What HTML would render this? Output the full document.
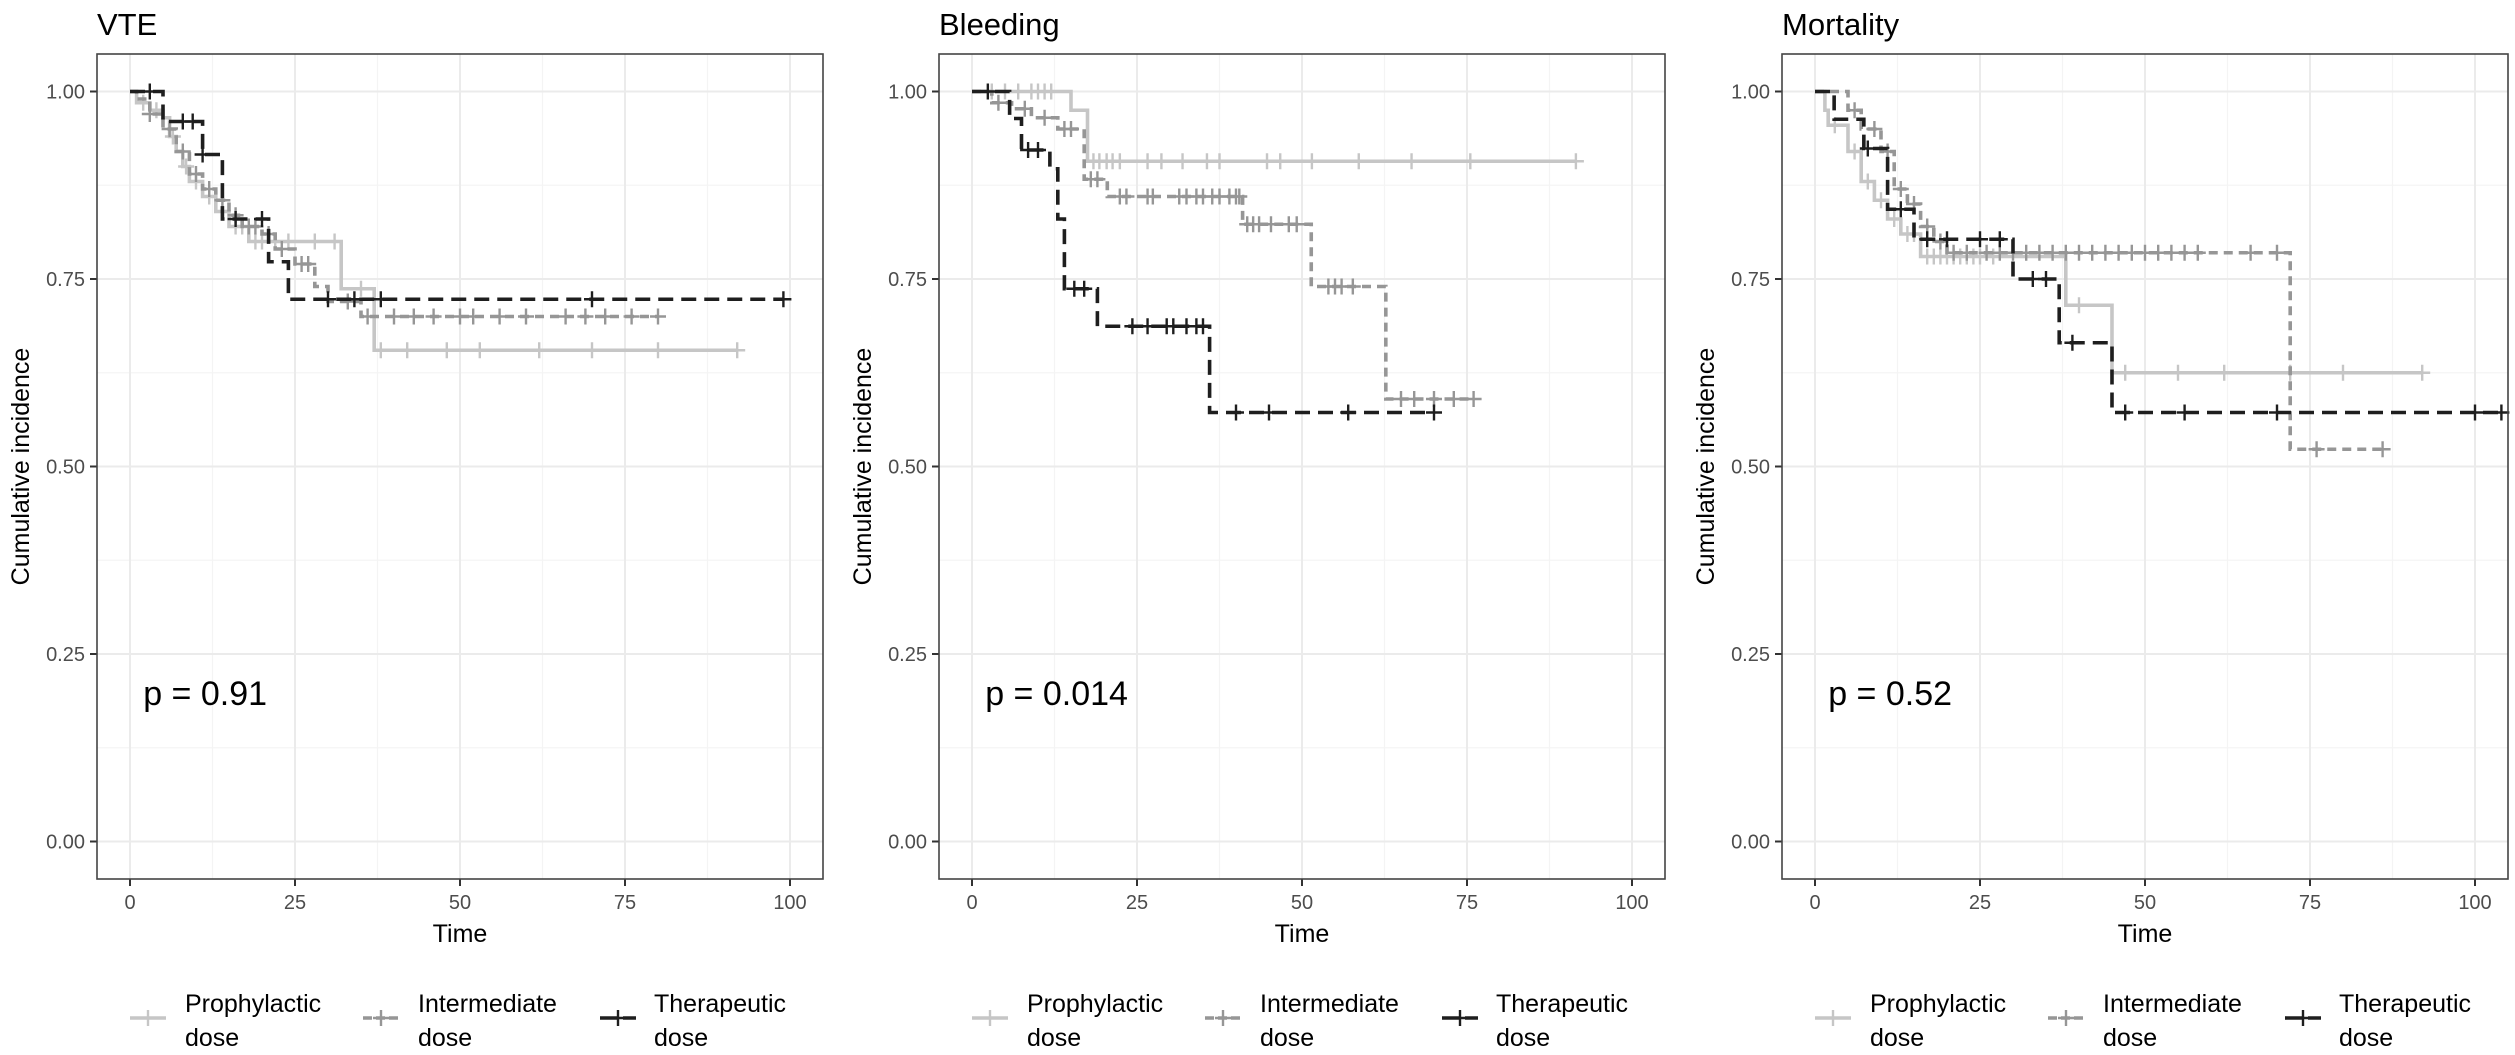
<!DOCTYPE html>
<html><head><meta charset="utf-8">
<style>
html,body{margin:0;padding:0;background:#fff;}
svg{display:block;font-family:"Liberation Sans",Arial,sans-serif;}
</style></head>
<body>
<svg id="chart" width="2515" height="1055" viewBox="0 0 2515 1055" xmlns="http://www.w3.org/2000/svg"></svg>
<script>
// ---- shared axis data ----
const xTicks = [0, 25, 50, 75, 100];
const yTicks = [0, 0.25, 0.5, 0.75, 1];
const yTickLabels = ["0.00", "0.25", "0.50", "0.75", "1.00"];
const panelTitles = ["VTE", "Bleeding", "Mortality"];
const pValues = ["p = 0.91", "p = 0.014", "p = 0.52"];
const groupNames = ["Prophylactic", "Intermediate", "Therapeutic"];

// ---- VTE ----
const vteProphT = [0,1,3,5,6,7,8,9,11,13,15,18,32,37];
const vteProphS = [1,0.985,0.975,0.965,0.94,0.92,0.9,0.88,0.86,0.84,0.82,0.80,0.737,0.655];
const vteProphEnd = 92;
const vteProphC = [2,4,6.5,8.5,10,12,14,16,17,19,20,22,24,28,31,35,38,42,48,53,62,70,80,92];
const vteInterT = [0,1,3,5,7,9,11,13,15,17,20,22,25,28,30,35];
const vteInterS = [1,0.99,0.97,0.95,0.92,0.89,0.87,0.855,0.835,0.82,0.81,0.79,0.77,0.74,0.72,0.70];
const vteInterEnd = 80;
const vteInterC = [3,6,8,10,12,14,16,18,19,21,23,26,27,33,36,40,43,46,50,52,56,60,66,69,72,76,80];
const vteTherT = [0,5,11,14,21,24];
const vteTherS = [1,0.96,0.916,0.83,0.773,0.723];
const vteTherEnd = 99;
const vteTherC = [3,8,9.5,11,16,20,30,34,38,70,99];

// ---- Bleeding ----
const blProphT = [0,15,17.5];
const blProphS = [1,0.975,0.907];
const blProphEnd = 91.5;
const blProphC = [3,5,7,9,10,11,12,18.4,19.3,20.4,21.3,22.4,26.6,28.7,31.9,35.6,37.5,44.7,46.7,51.5,58.6,66.6,75.5,91.5];
const blInterT = [0,3,6,9,13,17,20.5,41,51.4,62.7];
const blInterS = [1,0.985,0.977,0.965,0.95,0.883,0.86,0.823,0.74,0.59];
const blInterEnd = 76;
const blInterC = [4,8,11,14,15,18,19,22.4,23.4,26.6,27.4,31.4,32.5,34,35,36.4,37.5,39,40,40.5,41.7,42.6,43.5,45.3,48,49.2,54,55,56,57.7,65,67,70,73,76];
const blTherT = [0,5.7,7.5,11.8,13,14,19,36];
const blTherS = [1,0.964,0.922,0.897,0.83,0.737,0.687,0.572];
const blTherEnd = 70;
const blTherC = [2.4,8.5,10,15.5,17,24.3,26.6,29.5,30.5,32.5,34,35,40,45,57,70];

// ---- Mortality ----
const moProphT = [0,1.5,2,5,7,9,11,13,16,38,45];
const moProphS = [1,0.975,0.955,0.92,0.88,0.855,0.83,0.81,0.78,0.715,0.625];
const moProphEnd = 92;
const moProphC = [3,6,8,10,12,14,15,17,18,19,20,21,22,23,24,25,27,40,47,55,62,72,80,92];
const moInterT = [0,5,7,10,12,14,16,18,20,25,72];
const moInterS = [1,0.975,0.95,0.92,0.87,0.85,0.82,0.80,0.785,0.785,0.523];
const moInterEnd = 86;
const moInterC = [6,9,11,13,15,17,19,21,23,26,28,30,32,34,36,38,40,42,44,46,48,50,52,54,56,58,66,70,76,86];
const moTherT = [0,2.9,7.4,11,15,30,37,45];
const moTherS = [1,0.963,0.924,0.843,0.803,0.75,0.665,0.572];
const moTherEnd = 104;
const moTherC = [8,13,17,20,25,28,33,35,39,47,56,70,100,104];

const NS = "http://www.w3.org/2000/svg";
const svg = document.getElementById("chart");
function mk(tag, attrs, parent) {
  const e = document.createElementNS(NS, tag);
  for (const k in attrs) e.setAttribute(k, attrs[k]);
  (parent || svg).appendChild(e);
  return e;
}
const styles = [
  {color: "#c6c6c6", dash: "none"},
  {color: "#969696", dash: "9 6"},
  {color: "#1e1e1e", dash: "15 8"}
];
const panelLefts = [97, 939, 1782];
const PW = 726, PT = 54, PB = 879;
const panels = [
  [[vteProphT, vteProphS, vteProphEnd, vteProphC], [vteInterT, vteInterS, vteInterEnd, vteInterC], [vteTherT, vteTherS, vteTherEnd, vteTherC]],
  [[blProphT, blProphS, blProphEnd, blProphC], [blInterT, blInterS, blInterEnd, blInterC], [blTherT, blTherS, blTherEnd, blTherC]],
  [[moProphT, moProphS, moProphEnd, moProphC], [moInterT, moInterS, moInterEnd, moInterC], [moTherT, moTherS, moTherEnd, moTherC]]
];
const seriesNames = ["prophylactic", "intermediate", "therapeutic"];

panels.forEach((series, p) => {
  const L = panelLefts[p];
  const xS = t => L + (t + 5) / 110 * PW;
  const yS = v => PB - (v + 0.05) / 1.1 * (PB - PT);
  const g = mk("g", {});
  
  

  // title
  const title = mk("text", {x: L, y: 35, "font-size": 31, fill: "#000"}, g);
  title.textContent = panelTitles[p];
  
  

  // grid
  for (let i = 0; i < xTicks.length - 1; i++) {
    const m = mk("line", {x1: xS((xTicks[i] + xTicks[i+1]) / 2), x2: xS((xTicks[i] + xTicks[i+1]) / 2), y1: PT, y2: PB, stroke: "#f4f4f4", "stroke-width": 1.2}, g);
    
    
  }
  for (let i = 0; i < yTicks.length - 1; i++) {
    const m = mk("line", {x1: L, x2: L + PW, y1: yS((yTicks[i] + yTicks[i+1]) / 2), y2: yS((yTicks[i] + yTicks[i+1]) / 2), stroke: "#f4f4f4", "stroke-width": 1.2}, g);
    
    
  }
  xTicks.forEach(t => {
    const gl = mk("line", {x1: xS(t), x2: xS(t), y1: PT, y2: PB, stroke: "#ebebeb", "stroke-width": 2}, g);
    
    
    const tk = mk("line", {x1: xS(t), x2: xS(t), y1: PB, y2: PB + 7, stroke: "#333", "stroke-width": 2}, g);
    
    
    const tl = mk("text", {x: xS(t), y: PB + 30, "font-size": 20, fill: "#4d4d4d", "text-anchor": "middle"}, g);
    tl.textContent = String(t);
    
    
  });
  yTicks.forEach((v, i) => {
    const gl = mk("line", {x1: L, x2: L + PW, y1: yS(v), y2: yS(v), stroke: "#ebebeb", "stroke-width": 2}, g);
    
    
    const tk = mk("line", {x1: L - 7, x2: L, y1: yS(v), y2: yS(v), stroke: "#333", "stroke-width": 2}, g);
    
    
    const tl = mk("text", {x: L - 12, y: yS(v) + 7, "font-size": 20, fill: "#4d4d4d", "text-anchor": "end"}, g);
    tl.textContent = yTickLabels[i];
    
    
  });

  // series
  series.forEach((s, k) => {
    const [T, S, end, C] = s;
    let d = "M" + xS(T[0]) + "," + yS(S[0]);
    for (let i = 1; i < T.length; i++) {
      d += " H" + xS(T[i]) + " V" + yS(S[i]);
    }
    d += " H" + xS(end);
    const path = mk("path", {d: d, fill: "none", stroke: styles[k].color, "stroke-width": 3.6, "stroke-dasharray": styles[k].dash}, g);
    
    
    C.forEach(c => {
      let v = S[0];
      for (let i = 0; i < T.length; i++) if (T[i] <= c) v = S[i];
      const cx = xS(c), cy = yS(v);
      const mark = mk("path", {d: "M" + (cx - 8) + "," + cy + " H" + (cx + 8) + " M" + cx + "," + (cy - 8) + " V" + (cy + 8), stroke: styles[k].color, "stroke-width": 2.4, fill: "none"}, g);
      
      
    });
  });

  // border
  const border = mk("rect", {x: L, y: PT, width: PW, height: PB - PT, fill: "none", stroke: "#444", "stroke-width": 1.6}, g);
  
  

  // p-value
  const pv = mk("text", {x: xS(2), y: 705, "font-size": 34, fill: "#000"}, g);
  pv.textContent = pValues[p];
  
  

  // axis titles
  const xt = mk("text", {x: L + PW / 2, y: 942, "font-size": 25, fill: "#000", "text-anchor": "middle"}, g);
  xt.textContent = "Time";
  
  
  const yt = mk("text", {x: 0, y: 0, "font-size": 25, fill: "#000", "text-anchor": "middle", transform: "translate(" + (L - 68) + "," + ((PT + PB) / 2) + ") rotate(-90)"}, g);
  yt.textContent = "Cumulative incidence";
  
  

  // legend
  const keyOff = [33, 266, 503], textOff = [88, 321, 557];
  groupNames.forEach((nm, k) => {
    const lg = mk("g", {}, g);
    
    
    const kx = L + keyOff[k];
    mk("line", {x1: kx, x2: kx + 36, y1: 1018, y2: 1018, stroke: styles[k].color, "stroke-width": 3.6, "stroke-dasharray": k === 0 ? "none" : (k === 1 ? "9 4" : "18 5")}, lg);
    mk("path", {d: "M" + (kx + 10) + ",1018 H" + (kx + 26) + " M" + (kx + 18) + ",1010 V1026", stroke: styles[k].color, "stroke-width": 2.4, fill: "none"}, lg);
    const t1 = mk("text", {x: L + textOff[k], y: 1012, "font-size": 25, fill: "#000"}, lg);
    t1.textContent = nm;
    const t2 = mk("text", {x: L + textOff[k], y: 1046, "font-size": 25, fill: "#000"}, lg);
    t2.textContent = "dose";
  });
});
</script>
</body></html>
